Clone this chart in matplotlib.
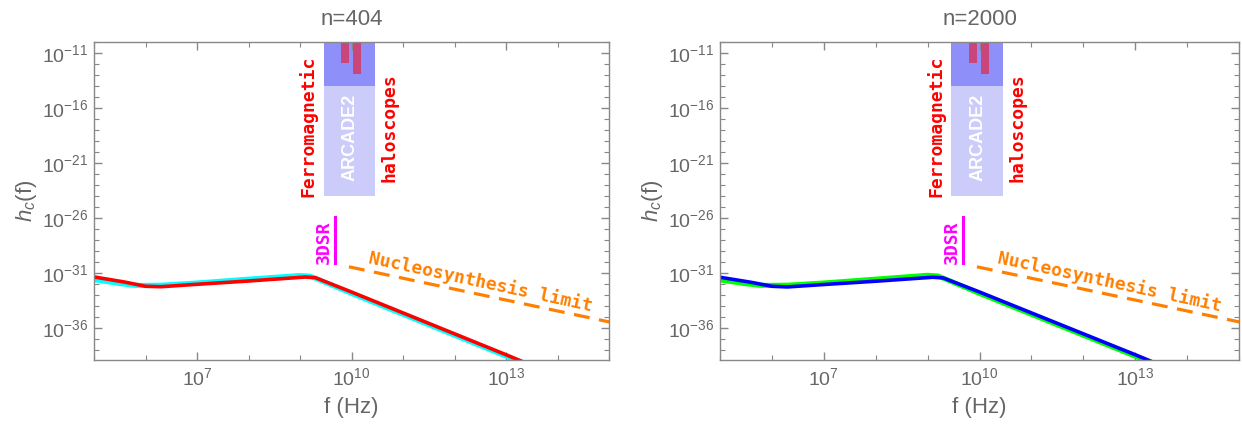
import numpy as np
import matplotlib
matplotlib.use('Agg')
import matplotlib.pyplot as plt
from matplotlib.ticker import FixedLocator, LogFormatterSciNotation, NullFormatter

plt.rcParams['font.family'] = ['Liberation Sans', 'DejaVu Sans']
plt.rcParams['mathtext.fontset'] = 'custom'
plt.rcParams['mathtext.rm'] = 'Liberation Sans'
plt.rcParams['mathtext.it'] = 'Liberation Sans:italic'

# curves, log10(f) and log10(h_c)
logf_a = [5.0, 5.6, 6.0, 6.3, 7.0, 8.0, 9.1, 9.3, 10.0, 11.0, 12.0, 13.0, 13.4]
logh_red = [-31.35, -31.82, -32.2, -32.24, -32.02, -31.72, -31.36, -31.42, -32.72, -34.62, -36.52, -38.42, -39.2]
logf_b = [5.0, 5.5, 5.8, 6.3, 7.0, 8.0, 9.0, 9.2, 10.0, 11.0, 12.0, 13.0, 13.4]
logh_cyan = [-31.6, -31.95, -32.12, -32.1, -31.9, -31.55, -31.22, -31.28, -32.85, -34.75, -36.65, -38.55, -39.3]
logh_blue = [-31.38, -31.84, -32.2, -32.26, -32.04, -31.74, -31.38, -31.44, -32.72, -34.62, -36.52, -38.42, -39.2]
logh_green = [-31.62, -31.97, -32.12, -32.1, -31.9, -31.55, -31.2, -31.26, -32.85, -34.75, -36.65, -38.55, -39.3]

# nucleosynthesis limit
logf_bbn = [9.95, 15.5]
logh_bbn = [-30.43, -35.93]

# 3DSR
logf_3dsr = 9.68
logh_3dsr = [-30.1, -25.9]

# ARCADE2 box and ferromagnetic haloscopes
arcade_f = [9.46, 10.46]
arcade_h = [-24.0, -9.0]
ferro_f = [9.46, 10.46]
ferro_h = [-14.0, -9.0]
bars_f = [[9.80, 9.96], [10.03, 10.18]]
bars_h = [-11.94, -12.88]

panels = [('n=404', logh_cyan, logh_red, '#00ffff', '#ff0000'),
          ('n=2000', logh_green, logh_blue, '#00ff00', '#0000ff')]

gray = '#666666'
fig = plt.figure(figsize=(12.42, 4.24), dpi=100)
rects = [[94/1242, 64/424, 515/1242, 318/424], [720/1242, 64/424, 519/1242, 318/424]]

for rect, (title, low, high, c_low, c_high) in zip(rects, panels):
    ax = fig.add_axes(rect)
    ax.set_xscale('log')
    ax.set_yscale('log')

    ax.fill_between(10**np.array(arcade_f), 10**arcade_h[0], 10**arcade_h[1],
                    color='#ccccfa', lw=0, zorder=1)
    ax.fill_between(10**np.array(ferro_f), 10**ferro_h[0], 10**ferro_h[1],
                    color='#8f8ff9', lw=0, zorder=1.5)
    for bf, bh in zip(bars_f, bars_h):
        ax.fill_between(10**np.array(bf), 10**bh, 1e-9, color='#c8467a',
                        lw=0, zorder=2)

    ax.plot(10**np.array(logf_b), 10**np.array(low), color=c_low, lw=3.6,
            solid_capstyle='butt', zorder=3)
    ax.plot(10**np.array(logf_a), 10**np.array(high), color=c_high, lw=2.6,
            solid_capstyle='butt', zorder=4)

    ax.plot(10**np.array(logf_bbn), 10**np.array(logh_bbn), color='#ff8000',
            lw=2.3, dashes=(5, 3), zorder=3)
    ax.plot([10**logf_3dsr] * 2, 10**np.array(logh_3dsr), color='#ff00ff',
            lw=2.2, zorder=3)

    mono = dict(family='DejaVu Sans Mono', weight='bold', fontsize=13)
    ax.text(10**9.47, 10**-30.15, '3DSR', rotation=90, ha='center', va='bottom',
            color='#ff00ff', **mono)
    ax.text(10**9.15, 10**-24.1, 'Ferromagnetic', rotation=90, ha='center',
            va='bottom', color='#ff0000', **mono)
    ax.text(10**10.74, 10**-22.7, 'haloscopes', rotation=90, ha='center',
            va='bottom', color='#ff0000', **mono)
    ax.text(10**9.98, 10**-18.7, 'ARCADE2', rotation=90, ha='center',
            va='center', color='white', fontsize=13, weight='bold')
    ax.text(10**12.5, 10**-31.8, 'Nucleosynthesis limit', rotation=-12.2,
            ha='center', va='center', rotation_mode='anchor', color='#ff8000',
            **mono)

    ax.set_xlim(1e5, 1e15)
    ax.set_ylim(10**-38.9, 1e-10)

    ax.xaxis.set_major_locator(FixedLocator([1e7, 1e10, 1e13]))
    ax.xaxis.set_minor_locator(FixedLocator(10.0**np.arange(5, 16)))
    ax.yaxis.set_major_locator(FixedLocator(10.0**np.arange(-36, -10, 5)))
    ax.yaxis.set_minor_locator(FixedLocator(10.0**np.arange(-39, -9)))
    ax.xaxis.set_major_formatter(LogFormatterSciNotation())
    ax.yaxis.set_major_formatter(LogFormatterSciNotation())
    ax.xaxis.set_minor_formatter(NullFormatter())
    ax.yaxis.set_minor_formatter(NullFormatter())

    ax.tick_params(which='both', direction='in', top=True, right=True,
                   color='#888888', labelcolor=gray, labelsize=14)
    ax.tick_params(which='major', length=6, width=1)
    ax.tick_params(which='minor', length=3.5, width=0.8)
    ax.tick_params(axis='x', pad=5)
    ax.tick_params(axis='y', pad=4)
    for s in ax.spines.values():
        s.set_color('#888888')
        s.set_linewidth(1)
        s.set_zorder(5)

    ax.set_xlabel('f (Hz)', fontsize=16, color=gray, labelpad=6)
    ax.set_ylabel('$h_c$(f)', fontsize=16, color=gray, labelpad=2)
    ax.set_title(title, fontsize=16, color=gray, pad=12)

fig.savefig('out.png', dpi=100)
